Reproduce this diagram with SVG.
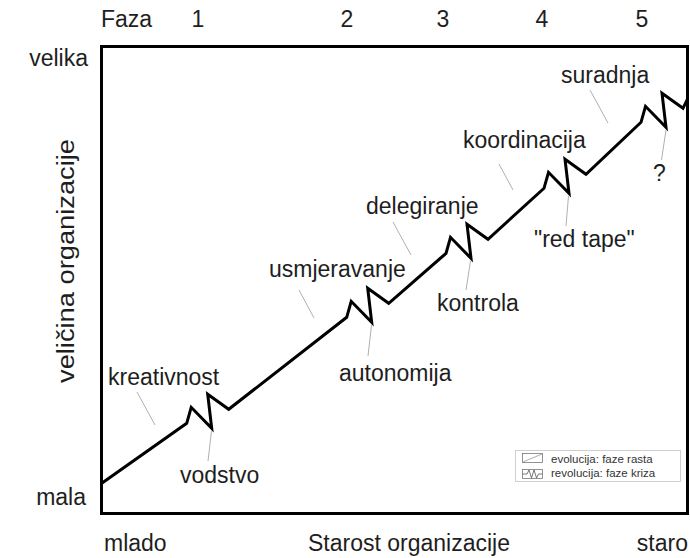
<svg xmlns="http://www.w3.org/2000/svg" width="690" height="558" viewBox="0 0 690 558">
<style>
text{font-family:"Liberation Sans",Arial,sans-serif;fill:#1e1e1e}
.t{font-size:23px}
.lg{font-size:11.5px;fill:#333}
.ld{stroke:#b0b0b0;stroke-width:1;fill:none}
</style>
<rect width="690" height="558" fill="#fff"/>
<g id="frame">
<rect x="101.5" y="46.5" width="586" height="467" fill="none" stroke="#000" stroke-width="3"/>
</g>
<g id="axis-labels">
<text class="t" x="101" y="27">Faza</text>
<text class="t" x="198" y="27" text-anchor="middle">1</text>
<text class="t" x="347" y="27" text-anchor="middle">2</text>
<text class="t" x="443" y="27" text-anchor="middle">3</text>
<text class="t" x="542" y="27" text-anchor="middle">4</text>
<text class="t" x="642" y="27" text-anchor="middle">5</text>
<text class="t" x="88" y="66" text-anchor="end">velika</text>
<text class="t" x="86" y="505" text-anchor="end">mala</text>
<text class="t" x="104" y="551">mlado</text>
<text class="t" x="308" y="551">Starost organizacije</text>
<text class="t" x="688" y="551" text-anchor="end">staro</text>
<text class="t" transform="translate(74,261) rotate(-90)" text-anchor="middle" textLength="244" lengthAdjust="spacingAndGlyphs">veličina organizacije</text>
</g>
<g id="connectors">
<clipPath id="c"><rect x="103" y="48" width="583" height="464"/></clipPath>
<polyline clip-path="url(#c)" fill="none" stroke="#000" stroke-width="3" stroke-linejoin="miter" points="100,484.5 186.7,423.3 191.2,407.3 211.7,428.3 207.7,394.3 228.7,409.3 346.7,317.3 351.2,301.3 371.7,322.3 367.7,288.3 388.7,303.3 446,253.3 450.5,237.3 471,258.3 467,224.3 488,239.3 544,188.3 548.5,172.3 569,193.3 565,159.3 586,174.3 641,122.3 645.5,106.3 666,127.3 662,93.3 683,108.3 692,90"/>
<line class="ld" x1="137" y1="392" x2="155" y2="425"/>
<line class="ld" x1="211.5" y1="431" x2="208" y2="461"/>
<line class="ld" x1="299" y1="290" x2="314" y2="318"/>
<line class="ld" x1="371.5" y1="325" x2="368" y2="356"/>
<line class="ld" x1="393" y1="222" x2="411" y2="255"/>
<line class="ld" x1="470.5" y1="261" x2="466" y2="290"/>
<line class="ld" x1="499" y1="164" x2="513" y2="190"/>
<line class="ld" x1="568.5" y1="196" x2="566" y2="226"/>
<line class="ld" x1="590" y1="90" x2="608" y2="123"/>
<line class="ld" x1="666" y1="130" x2="661.5" y2="160"/>
</g>
<g id="phase-labels">
<text class="t" x="108" y="385">kreativnost</text>
<text class="t" x="180" y="483">vodstvo</text>
<text class="t" x="269" y="277">usmjeravanje</text>
<text class="t" x="339" y="381">autonomija</text>
<text class="t" x="366" y="214">delegiranje</text>
<text class="t" x="437" y="311">kontrola</text>
<text class="t" x="463" y="148">koordinacija</text>
<text class="t" x="534" y="247">"red tape"</text>
<text class="t" x="561" y="83">suradnja</text>
<text class="t" x="653" y="181">?</text>
</g>
<g id="legend">
<rect x="515.5" y="450.5" width="165" height="31" fill="#fff" stroke="#cfcfcf"/>
<rect x="522.5" y="453.5" width="20" height="9" fill="none" stroke="#777" stroke-width="0.8"/>
<line x1="523" y1="462" x2="542" y2="454" stroke="#999" stroke-width="0.8"/>
<rect x="522.5" y="469.5" width="20" height="9" fill="none" stroke="#777" stroke-width="0.8"/>
<polyline points="522.5,474 527,474 529,470 531.5,478 534,470 536.5,478 538.5,474 542.5,474" fill="none" stroke="#555" stroke-width="0.8"/>
<text class="lg" x="551" y="463">evolucija:  faze rasta</text>
<text class="lg" x="551" y="477">revolucija: faze kriza</text>
</g>
</svg>
